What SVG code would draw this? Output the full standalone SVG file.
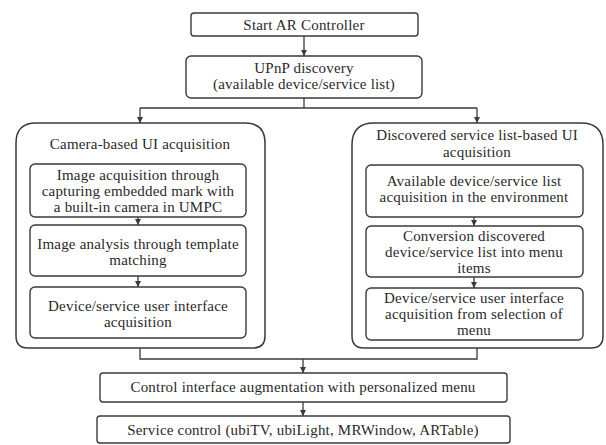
<svg xmlns="http://www.w3.org/2000/svg" width="606" height="445" viewBox="0 0 606 445">
<style>
.box{fill:#ffffff;stroke:#3a3a3a;stroke-width:1.4}
.outer{fill:#ffffff;stroke:#3a3a3a;stroke-width:1.5}
.t{font-family:"Liberation Serif","Times New Roman",serif;font-size:15px;letter-spacing:0.2px;fill:#2a2a2a;text-anchor:middle}
.c{fill:none;stroke:#3a3a3a;stroke-width:1.3}
</style>
<defs>
<marker id="ah" markerUnits="userSpaceOnUse" markerWidth="6" markerHeight="6" refX="6" refY="3" orient="auto">
<path d="M0,0 L6,3 L0,6 z" fill="#3a3a3a"/>
</marker>
</defs>
<rect width="606" height="445" fill="#ffffff"/>

<g id="start">
<rect class="box" x="191" y="13" width="227" height="23" rx="3"/>
<text class="t" x="304" y="30">Start AR Controller</text>
</g>

<g id="upnp">
<rect class="box" x="186" y="56" width="236" height="42" rx="5"/>
<text class="t" x="304" y="73">UPnP discovery</text>
<text class="t" x="304" y="89">(available device/service list)</text>
</g>

<g id="camera-group">
<path class="outer" d="M16,143 Q16,123 36,123 L245,123 Q265,123 265,143 L265,336 Q265,348 253,348 L28,348 Q16,348 16,336 Z"/>
<text class="t" x="140" y="149">Camera-based UI acquisition</text>
</g>
<g id="cam1">
<rect class="box" x="30" y="164" width="216" height="53" rx="5"/>
<text class="t" x="138" y="180">Image acquisition through</text>
<text class="t" x="138" y="196">capturing embedded mark with</text>
<text class="t" x="138" y="212">a built-in camera in UMPC</text>
</g>
<g id="cam2">
<rect class="box" x="30" y="225" width="216" height="51" rx="5"/>
<text class="t" x="138" y="249">Image analysis through template</text>
<text class="t" x="138" y="265">matching</text>
</g>
<g id="cam3">
<rect class="box" x="30" y="287" width="216" height="51" rx="5"/>
<text class="t" x="138" y="311">Device/service user interface</text>
<text class="t" x="138" y="327">acquisition</text>
</g>

<g id="list-group">
<path class="outer" d="M352,145 Q352,123 374,123 L581,123 Q603,123 603,145 L603,336 Q603,348 591,348 L364,348 Q352,348 352,336 Z"/>
<text class="t" x="477" y="140">Discovered service list-based UI</text>
<text class="t" x="477" y="157">acquisition</text>
</g>
<g id="list1">
<rect class="box" x="366" y="165" width="217" height="52" rx="5"/>
<text class="t" x="474" y="186">Available device/service list</text>
<text class="t" x="474" y="202">acquisition in the environment</text>
</g>
<g id="list2">
<rect class="box" x="366" y="226" width="217" height="51" rx="5"/>
<text class="t" x="474" y="241">Conversion discovered</text>
<text class="t" x="474" y="257">device/service list into menu</text>
<text class="t" x="474" y="273">items</text>
</g>
<g id="list3">
<rect class="box" x="366" y="288" width="217" height="52" rx="5"/>
<text class="t" x="474" y="303">Device/service user interface</text>
<text class="t" x="474" y="319">acquisition from selection of</text>
<text class="t" x="474" y="335">menu</text>
</g>

<g id="augment">
<rect class="box" x="100" y="373" width="407" height="29" rx="3"/>
<text class="t" x="303" y="392">Control interface augmentation with personalized  menu</text>
</g>
<g id="service">
<rect class="box" x="97" y="416" width="413" height="27" rx="3"/>
<text class="t" x="303" y="435">Service control (ubiTV, ubiLight, MRWindow, ARTable)</text>
</g>

<g id="connectors">
<path class="c" d="M304,36 V56" marker-end="url(#ah)"/>
<path class="c" d="M304,98 V108 M140,108 H477"/>
<path class="c" d="M140,108 V123" marker-end="url(#ah)"/>
<path class="c" d="M477,108 V123" marker-end="url(#ah)"/>
<path class="c" d="M138,217 V225" marker-end="url(#ah)"/>
<path class="c" d="M138,276 V287" marker-end="url(#ah)"/>
<path class="c" d="M474,217 V226" marker-end="url(#ah)"/>
<path class="c" d="M474,277 V288" marker-end="url(#ah)"/>
<path class="c" d="M140,348 V359 H477 V348"/>
<path class="c" d="M303,359 V373" marker-end="url(#ah)"/>
<path class="c" d="M303,402 V416" marker-end="url(#ah)"/>
</g>
</svg>
